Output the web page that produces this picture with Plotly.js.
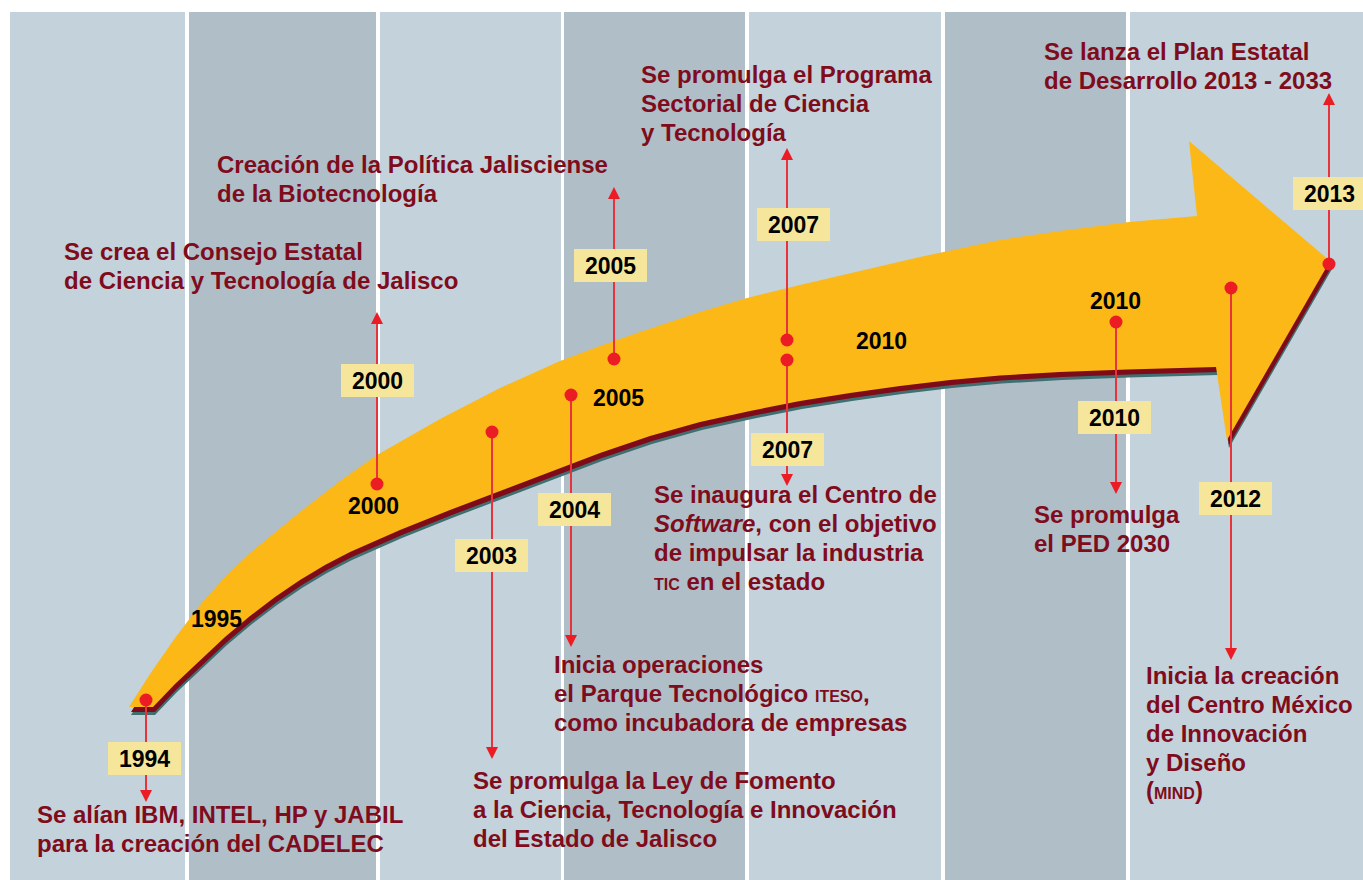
<!DOCTYPE html>
<html>
<head>
<meta charset="utf-8">
<script src="https://cdn.plot.ly/plotly-3.0.1.min.js"></script>
<style>html,body{margin:0;padding:0;background:#fff;}#chart{width:1363px;height:880px;}</style>
</head>
<body>
<div id="chart"></div>
<script>
// ---------- background columns ----------
const bandX0 = [10, 189, 380, 564, 749, 945, 1130];
const bandX1 = [185, 376, 561, 745, 941, 1126, 1363];
const bandTone = ['light', 'dark', 'light', 'dark', 'light', 'dark', 'light'];

// ---------- curved arrow outline ----------
const arrowUpperX = [129, 150, 175, 200, 225, 250, 300, 340, 377, 440, 500, 560, 600, 640, 700, 747, 800, 860, 920, 1000, 1060, 1129, 1197];
const arrowUpperY = [707, 674, 638, 605, 577, 553, 512, 481, 455, 419, 388, 361, 346, 332, 312, 298, 285, 271, 257, 240, 231, 222, 216];
const arrowHeadX = [1189, 1330, 1227, 1216];
const arrowHeadY = [141, 261, 440, 367];
const arrowLowerX = [1127, 1060, 1000, 950, 900, 850, 800, 750, 700, 650, 600, 550, 500, 450, 400, 350, 325, 300, 275, 250, 225, 200, 175, 153];
const arrowLowerY = [369.5, 372, 375.5, 380, 386, 393, 401, 411, 422, 436, 453, 472, 491, 510, 530, 552, 565, 580, 597, 616, 637, 660, 684, 707];

// ---------- events ----------
const eventYears = ['1994', '2000', '2003', '2004', '2005', '2007', '2007', '2010', '2012', '2013'];
const eventX     = [146, 377, 492, 571, 614, 787, 787, 1116, 1231, 1329];
const dotY       = [700, 484, 432, 395, 359, 340, 360, 322, 288, 264];
const tipY       = [802, 312, 759, 647, 187, 148, 486, 494, 660, 93];
const boxCX      = [144.5, 377.5, 491.5, 574.5, 610.5, 793.5, 787.5, 1114.5, 1235.5, 1329.5];
const boxCY      = [758.5, 380.5, 555.5, 509.5, 265.5, 224.5, 449.5, 417.5, 498.5, 193.5];
const textX      = [37, 64, 473, 554, 217, 641, 654, 1034, 1146, 1044];
const textBaseY  = [823, 260, 789, 673, 173, 83, 503, 523, 684, 60];
const SC = s => '<span style="font-size:16px">' + s + '</span>';
const textLines = [
  ['Se alían IBM, INTEL, HP y JABIL', 'para la creación del CADELEC'],
  ['Se crea el Consejo Estatal', 'de Ciencia y Tecnología de Jalisco'],
  ['Se promulga la Ley de Fomento', 'a la Ciencia, Tecnología e Innovación', 'del Estado de Jalisco'],
  ['Inicia operaciones', 'el Parque Tecnológico ' + SC('ITESO') + ',', 'como incubadora de empresas'],
  ['Creación de la Política Jalisciense', 'de la Biotecnología'],
  ['Se promulga el Programa', 'Sectorial de Ciencia', 'y Tecnología'],
  ['Se inaugura el Centro de', '<i>Software</i>, con el objetivo', 'de impulsar la industria', SC('TIC') + ' en el estado'],
  ['Se promulga', 'el PED 2030'],
  ['Inicia la creación', 'del Centro México', 'de Innovación', 'y Diseño', '(' + SC('MIND') + ')'],
  ['Se lanza el Plan Estatal', 'de Desarrollo 2013 - 2033']
];

// ---------- year labels printed on the arrow ----------
const arrowLabels = ['1995', '2000', '2005', '2010', '2010'];
const arrowLabelX = [216, 373, 618, 881, 1115];
const arrowLabelY = [619, 506, 398, 341, 301];

// ---------- styles ----------
const FONT = 'Liberation Sans, Arial, Helvetica, sans-serif';
const C_LIGHT = '#c4d2db', C_DARK = '#b0bec8';
const C_YELLOW = '#fbb816', C_SHADOW1 = '#7e0b17', C_SHADOW2 = '#3f6f70';
const C_RED = '#ec1c24', C_LINE = '#e8333b', C_BOX = '#f5e69b', C_TEXT = '#7f0c1c';
const DESC_SIZE = 24, LINE_GAP = 28.8, YEAR_SIZE = 23;
const BOX_W = 73, BOX_H = 33, HEAD = 12;

const outlineX = arrowUpperX.concat(arrowHeadX, arrowLowerX);
const outlineY = arrowUpperY.concat(arrowHeadY, arrowLowerY);

const traces = [];
function arrowLayer(dx, dy, color) {
  traces.push({
    type: 'scatter', mode: 'lines', fill: 'toself', fillcolor: color,
    x: outlineX.map(v => v + dx), y: outlineY.map(v => v + dy),
    line: {width: 0, color: color}, hoverinfo: 'skip', cliponaxis: false
  });
}
arrowLayer(2, 8, C_SHADOW2);
arrowLayer(2, 5, C_SHADOW1);
arrowLayer(0, 0, C_YELLOW);

// connector lines
const lx = [], ly = [];
eventX.forEach((x, i) => {
  const up = tipY[i] < dotY[i];
  lx.push(x, x, null);
  ly.push(dotY[i], tipY[i] + (up ? HEAD - 2 : -(HEAD - 2)), null);
});
traces.push({type: 'scatter', mode: 'lines', x: lx, y: ly,
  line: {color: C_LINE, width: 2}, hoverinfo: 'skip', cliponaxis: false});

// arrow heads
traces.push({type: 'scatter', mode: 'markers', x: eventX, y: tipY,
  marker: {symbol: eventX.map((x, i) => tipY[i] < dotY[i] ? 'arrow-up' : 'arrow-down'),
           size: HEAD, color: C_RED, line: {width: 0}},
  hoverinfo: 'skip', cliponaxis: false});

// dots
traces.push({type: 'scatter', mode: 'markers', x: eventX, y: dotY,
  marker: {symbol: 'circle', size: 13, color: C_RED, line: {width: 0}},
  hoverinfo: 'skip', cliponaxis: false});

const shapes = [];
bandX0.forEach((x0, i) => {
  shapes.push({type: 'rect', xref: 'x', yref: 'y', layer: 'below',
    x0: x0, x1: bandX1[i], y0: 12, y1: 880,
    fillcolor: bandTone[i] === 'light' ? C_LIGHT : C_DARK, line: {width: 0}});
});
boxCX.forEach((cx, i) => {
  shapes.push({type: 'rect', xref: 'x', yref: 'y', layer: 'above',
    x0: cx - BOX_W / 2, x1: cx + BOX_W / 2, y0: boxCY[i] - BOX_H / 2, y1: boxCY[i] + BOX_H / 2,
    fillcolor: C_BOX, line: {width: 0}});
});

const annotations = [];
boxCX.forEach((cx, i) => {
  annotations.push({x: cx, y: boxCY[i] + 0.5, xref: 'x', yref: 'y', showarrow: false,
    text: '<b>' + eventYears[i] + '</b>', xanchor: 'center', yanchor: 'middle',
    borderpad: 0, borderwidth: 0,
    font: {family: FONT, size: YEAR_SIZE, color: '#000'}});
});
arrowLabels.forEach((t, i) => {
  annotations.push({x: arrowLabelX[i], y: arrowLabelY[i], xref: 'x', yref: 'y', showarrow: false,
    text: '<b>' + t + '</b>', xanchor: 'center', yanchor: 'middle', borderpad: 0, borderwidth: 0,
    font: {family: FONT, size: YEAR_SIZE, color: '#000'}});
});
textLines.forEach((lines, i) => {
  lines.forEach((ln, k) => {
    annotations.push({x: textX[i], y: textBaseY[i] + k * LINE_GAP - 0.3465 * DESC_SIZE,
      xref: 'x', yref: 'y', showarrow: false, text: '<b>' + ln + '</b>',
      xanchor: 'left', yanchor: 'middle', align: 'left', borderpad: 0, borderwidth: 0,
      font: {family: FONT, size: DESC_SIZE, color: C_TEXT}});
  });
});

const layout = {
  width: 1363, height: 880,
  margin: {l: 0, r: 0, t: 0, b: 0, pad: 0},
  paper_bgcolor: '#ffffff', plot_bgcolor: '#ffffff',
  showlegend: false,
  xaxis: {range: [0, 1363], visible: false, fixedrange: true},
  yaxis: {range: [880, 0], visible: false, fixedrange: true},
  shapes: shapes, annotations: annotations
};
Plotly.newPlot('chart', traces, layout, {displayModeBar: false, staticPlot: true});
</script>
</body>
</html>
